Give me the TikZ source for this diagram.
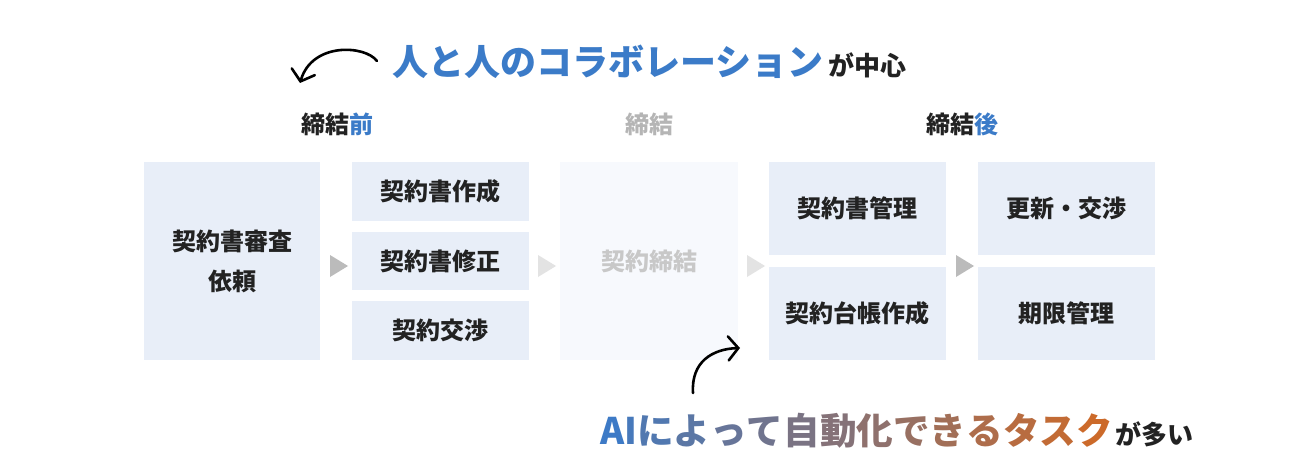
\documentclass[tikz,border=0pt]{standalone}
\usepackage{fontspec}
\setmainfont{Noto Sans CJK JP}
\usetikzlibrary{arrows.meta}
\definecolor{boxfill}{HTML}{E8EEF8}
\definecolor{fadefill}{HTML}{F7F9FD}
\definecolor{txt}{HTML}{222222}
\definecolor{blue1}{HTML}{3B7BC8}
\definecolor{fadetxt}{HTML}{C8C8C8}
\definecolor{headgray}{HTML}{B5B5B5}
\definecolor{tri}{HTML}{BBBBBB}
\definecolor{trilight}{HTML}{E3E3E3}
\definecolor{gblue}{HTML}{3D7AC6}
\definecolor{gorange}{HTML}{CC6A2A}
\tikzset{
  box/.style={fill=boxfill, draw=none, inner sep=0pt, align=center, text=txt,
    font=\fontsize{24}{40}\selectfont\bfseries},
  fadebox/.style={box, fill=fadefill, text=fadetxt},
  head/.style={inner sep=0pt, text=txt, font=\fontsize{24}{30}\selectfont\bfseries},
  hand/.style={draw=black, line width=2.6pt, line cap=round, line join=round,
    -{Straight Barb[length=10pt,width=24pt,line cap=round]}},
}
\begin{document}
\begin{tikzpicture}[x=1pt,y=-1pt]
\useasboundingbox[fill=white] (0,0) rectangle (1304,476);

% boxes
\node[box, minimum width=176pt, minimum height=198pt] (req) at (232,261) {契約書審査\\依頼};
\node[box, minimum width=177pt, minimum height=59pt] (draft) at (440.5,191.5) {契約書作成};
\node[box, minimum width=177pt, minimum height=58pt] (edit) at (440.5,261) {契約書修正};
\node[box, minimum width=177pt, minimum height=59pt] (nego) at (440.5,330.5) {契約交渉};
\node[fadebox, minimum width=178pt, minimum height=198pt] (sign) at (649,261) {契約締結};
\node[box, minimum width=177pt, minimum height=93pt] (manage) at (857.5,208.5) {契約書管理};
\node[box, minimum width=177pt, minimum height=93pt] (ledger) at (857.5,313.5) {契約台帳作成};
\node[box, minimum width=177pt, minimum height=93pt] (renew) at (1066.5,208.5) {更新・交渉};
\node[box, minimum width=177pt, minimum height=93pt] (term) at (1066.5,313.5) {期限管理};

% triangles
\fill[tri] (330,255) -- (348,266) -- (330,277) -- cycle;
\fill[trilight] (538,255) -- (556,266) -- (538,277) -- cycle;
\fill[trilight] (747,255) -- (765,266) -- (747,277) -- cycle;
\fill[tri] (956,255) -- (974,266) -- (956,277) -- cycle;

% headers
\node[head] (hpre) at (337,124) {締結\textcolor{blue1}{前}};
\node[head, text=headgray] (hmid) at (649,124) {締結};
\node[head] (hpost) at (962,124) {締結\textcolor{blue1}{後}};

% top caption
\node[anchor=base west, inner sep=0pt, text=blue1, font=\fontsize{36}{40}\selectfont\bfseries] (collab) at (392,76) {人と人のコラボレーション};
\node[anchor=base west, inner sep=0pt, text=txt, font=\fontsize{26}{30}\selectfont\bfseries] (collab2) at ([xshift=5pt]collab.base east) {が中心};
\coordinate (ta) at (377,61);
\coordinate (tb) at (300,83);
\draw[hand] (ta) .. controls (365,45) and (312,42) .. (tb);

% bottom caption
\node[anchor=base west, inner sep=0pt, font=\fontsize{36.6}{40}\selectfont\bfseries] (ai) at (600,444) {%
\textcolor{gorange!0!gblue}{A}\textcolor{gorange!7!gblue}{I}\textcolor{gorange!14!gblue}{に}\textcolor{gorange!21!gblue}{よ}\textcolor{gorange!29!gblue}{っ}\textcolor{gorange!36!gblue}{て}\textcolor{gorange!43!gblue}{自}\textcolor{gorange!50!gblue}{動}\textcolor{gorange!57!gblue}{化}\textcolor{gorange!64!gblue}{で}\textcolor{gorange!71!gblue}{き}\textcolor{gorange!79!gblue}{る}\textcolor{gorange!86!gblue}{タ}\textcolor{gorange!93!gblue}{ス}\textcolor{gorange!100!gblue}{ク}};
\node[anchor=base west, inner sep=0pt, text=txt, font=\fontsize{26}{30}\selectfont\bfseries] (ai2) at ([xshift=2pt]ai.base east) {が多い};
\coordinate (ba) at (693,393);
\coordinate (bb) at (740,348);
\draw[hand] (ba) .. controls (691,362) and (712,349) .. (bb);
\end{tikzpicture}
\end{document}
